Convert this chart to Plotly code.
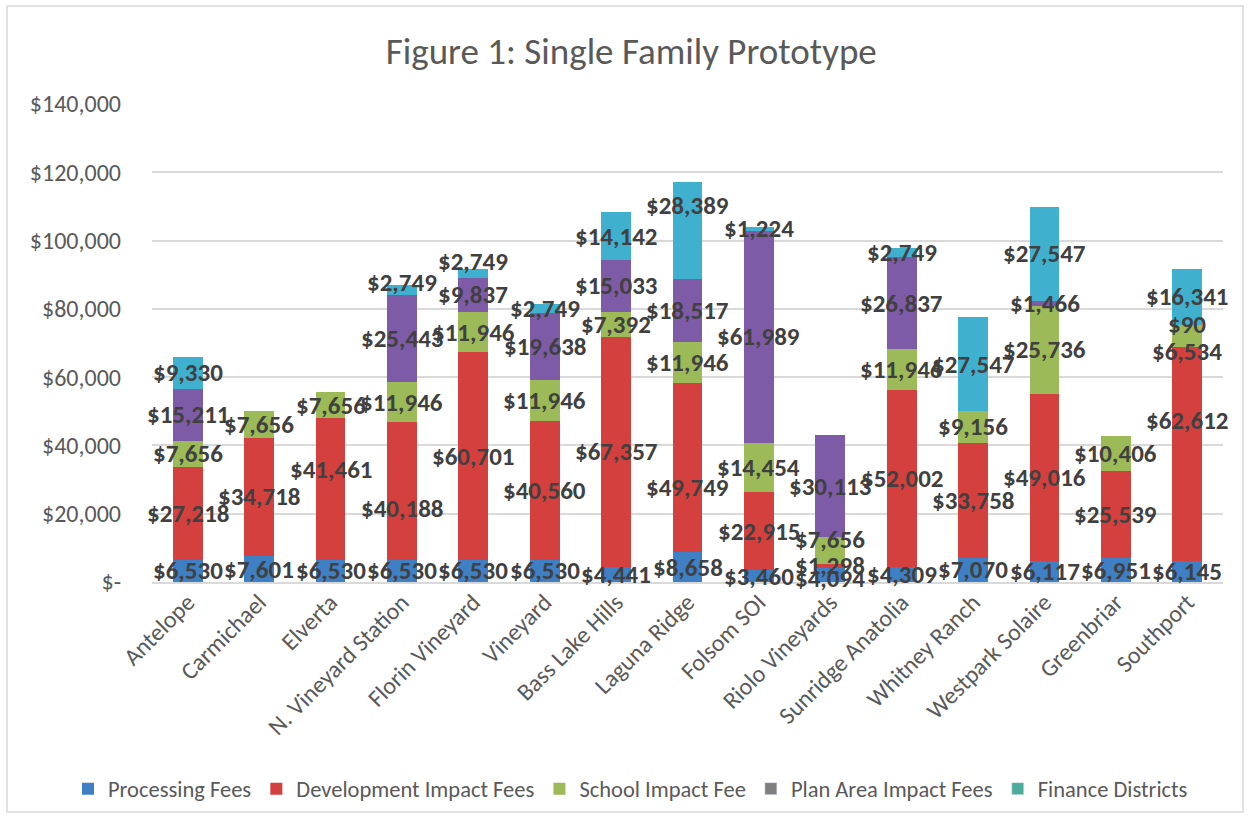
import plotly.graph_objects as go

categories = ["Antelope", "Carmichael", "Elverta", "N. Vineyard Station", "Florin Vineyard",
              "Vineyard", "Bass Lake Hills", "Laguna Ridge", "Folsom SOI", "Riolo Vineyards",
              "Sunridge Anatolia", "Whitney Ranch", "Westpark Solaire", "Greenbriar", "Southport"]
processing = [6530, 7601, 6530, 6530, 6530, 6530, 4441, 8658, 3460, 4094, 4309, 7070, 6117, 6951, 6145]
development = [27218, 34718, 41461, 40188, 60701, 40560, 67357, 49749, 22915, 1298, 52002, 33758, 49016, 25539, 62612]
school = [7656, 7656, 7656, 11946, 11946, 11946, 7392, 11946, 14454, 7656, 11946, 9156, 25736, 10406, 6534]
plan_area = [15211, 0, 0, 25443, 9837, 19638, 15033, 18517, 61989, 30113, 26837, 0, 1466, 0, 90]
finance = [9330, 0, 0, 2749, 2749, 2749, 14142, 28389, 1224, 0, 2749, 27547, 27547, 0, 16341]

y_tickvals = [0, 20000, 40000, 60000, 80000, 100000, 120000, 140000]
y_ticktext = ["$-", "$20,000", "$40,000", "$60,000", "$80,000", "$100,000", "$120,000", "$140,000"]

series = [
    ("Processing Fees", processing, "#3f7fc4"),
    ("Development Impact Fees", development, "#d4403e"),
    ("School Impact Fee", school, "#9cbb58"),
    ("Plan Area Impact Fees", plan_area, "#7e5ba6"),
    ("Finance Districts", finance, "#40b0cf"),
]
legend_colors = {"Plan Area Impact Fees": "#7f7f7f", "Finance Districts": "#4aac9b"}

# manual data-label nudges (px, up positive) as moved in the original chart
label_shift = {
    ("Finance Districts", "Laguna Ridge"): 25,
    ("Development Impact Fees", "Laguna Ridge"): -20,
    ("Processing Fees", "Riolo Vineyards"): -3,
    ("School Impact Fee", "Riolo Vineyards"): 11,
    ("School Impact Fee", "Southport"): -15,
    ("Development Impact Fees", "Southport"): 34,
    ("Finance Districts", "Florin Vineyard"): 12,
    ("Finance Districts", "N. Vineyard Station"): 8,
    ("Development Impact Fees", "N. Vineyard Station"): -17,
    ("Development Impact Fees", "Elverta"): 19,
}

FONT = "Carlito, Lato, sans-serif"
W, H = 1250, 824
ML, MR, MT, MB = 152, 27, 104, 242
PW, PH = W - ML - MR, H - MT - MB

def px_x(p):
    return (p - ML) / PW

def px_y(p):
    return (H - MB - p) / PH

fig = go.Figure()
annotations = []
base = [0] * len(categories)
for name, vals, color in series:
    fig.add_trace(go.Bar(
        name=name, x=categories, y=vals,
        marker=dict(color=color, line=dict(width=0)),
        showlegend=name not in legend_colors,
        hoverinfo="skip",
    ))
    for i, (cat, v) in enumerate(zip(categories, vals)):
        if v:
            annotations.append(dict(
                x=cat, y=base[i] + v / 2, xref="x", yref="y",
                text=f"${v:,}", showarrow=False,
                yshift=label_shift.get((name, cat), 0),
                font=dict(family=FONT, size=25, color="#404040", weight="bold"),
            ))
        base[i] += v
for name, col in legend_colors.items():
    fig.add_trace(go.Bar(name=name, x=[None], y=[None], marker=dict(color=col), showlegend=True))

annotations.append(dict(text="<b>Figure 1: Fee Comparison for Single Family Prototype</b>",
                        xref="paper", yref="paper", x=px_x(672), y=px_y(5),
                        xanchor="center", yanchor="bottom", showarrow=False,
                        font=dict(family=FONT, size=29, color="#000000")))

fig.update_layout(
    width=W, height=H,
    margin=dict(l=ML, r=MR, t=MT, b=MB),
    paper_bgcolor="white", plot_bgcolor="white",
    barmode="stack", bargap=0.58,
    font=dict(family=FONT, color="#595959"),
    title=dict(text="Figure 1: Single Family Prototype", x=0.505, xanchor="center",
               y=1 - 51 / H, yanchor="middle",
               font=dict(family=FONT, size=37, color="#595959")),
    legend=dict(orientation="h", x=px_x(68), xanchor="left",
                y=px_y(789), yanchor="middle",
                font=dict(family=FONT, size=22.5, color="#595959"), traceorder="normal",
                itemwidth=30, bgcolor="rgba(0,0,0,0)"),
    xaxis=dict(type="category", range=[-0.5, len(categories) - 0.5],
               tickangle=-45, tickfont=dict(family=FONT, size=24, color="#595959"),
               showline=True, linecolor="#d9d9d9", linewidth=1.5, showgrid=False, ticks="",
               automargin=False, ticklabelstandoff=-5),
    yaxis=dict(range=[0, 140000], tickvals=y_tickvals, ticktext=y_ticktext,
               tickfont=dict(family=FONT, size=24, color="#595959"),
               showgrid=True, gridcolor="#d9d9d9", gridwidth=1.5, zeroline=False,
               ticks="", ticklabelstandoff=30, automargin=False),
    shapes=[dict(type="rect", xref="paper", yref="paper",
                 x0=px_x(7), x1=px_x(1243), y0=px_y(812), y1=px_y(6),
                 line=dict(color="#d9d9d9", width=1.5), fillcolor="rgba(0,0,0,0)", layer="below")],
    annotations=annotations,
)

fig.write_html("out.html", config={"displayModeBar": False},
               post_script="document.body.style.margin='0px';")
